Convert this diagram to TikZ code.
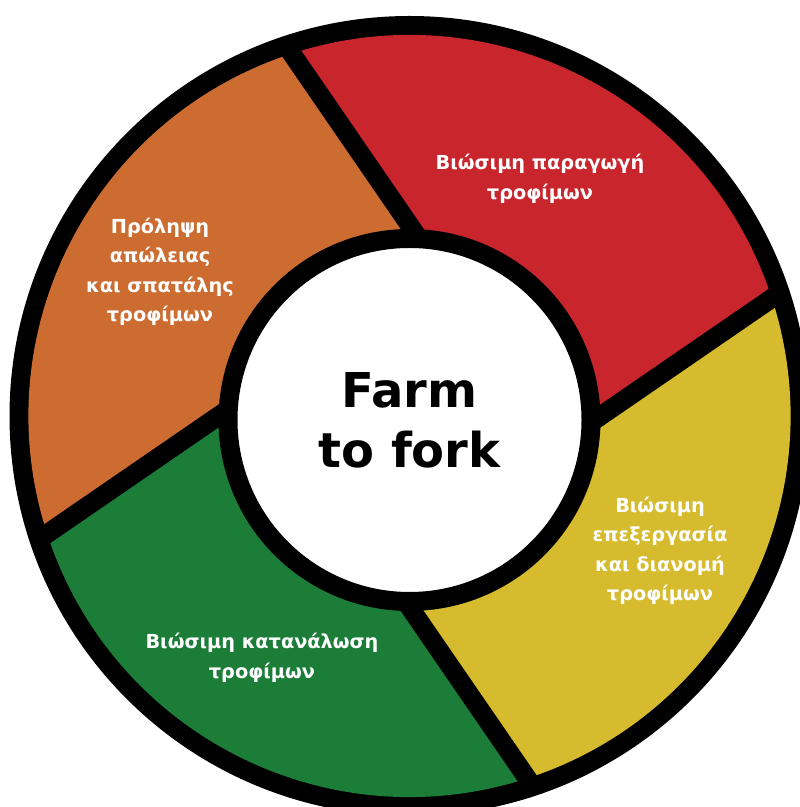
\documentclass[tikz,border=0pt]{standalone}
\usepackage{fontspec}
\setmainfont{DejaVu Sans}
\usetikzlibrary{calc}

\definecolor{ffred}{HTML}{C8252D}
\definecolor{fforange}{HTML}{CC6C30}
\definecolor{ffyellow}{HTML}{D5BB2D}
\definecolor{ffgreen}{HTML}{1B7D38}

\tikzset{
	seglabel/.style={text=white, align=center, font=\bfseries\fontsize{19.3bp}{29.5bp}\selectfont},
	hublabel/.style={circle, draw=black, fill=white, line width=19bp, minimum size=363bp, inner sep=0pt,
		align=center, font=\bfseries\fontsize{48bp}{60bp}\selectfont}
}

\begin{document}
\begin{tikzpicture}[x=1bp,y=1bp]
	\pgfmathsetmacro{\Ro}{400} % outer edge of the ring
	\pgfmathsetmacro{\Rc}{381} % outer edge of the coloured band
	\pgfmathsetmacro{\Ri}{191} % outer edge of the hub
	
	\useasboundingbox (0,0) rectangle (800,807);
	
	\begin{scope}[shift={(409.5,391)}]
		% Black disk behind everything
		\fill[black] (0,0) circle[radius=\Ro];
		
		% Coloured sectors, each turned by 18 degrees at the rim
		\foreach \a/\col in {0/ffred, -90/ffyellow, 180/ffgreen, 90/fforange} {
			\fill[\col] (0,0) -- (\a:\Ri) -- ({\a+18}:\Rc)
			arc[start angle={\a+18}, end angle={\a+108}, radius=\Rc]
			-- ({\a+90}:\Ri) -- cycle;
		}
		
		% Black dividers between the sectors
		\foreach \a in {0,-90,180,90} {
			\draw[black, line width=19bp]
			($(\a:\Ri)!-0.2!({\a+18}:\Rc)$) -- ($(\a:\Ri)!1.05!({\a+18}:\Rc)$);
		}
		
		% Hub
		\node[hublabel] (hub) at (0,-4) {Farm\\to fork};
		
		% Sector labels
		\node[seglabel] (prod) at (130.5,237) {Βιώσιμη παραγωγή\\τροφίμων};
		\node[seglabel] (proc) at (250.5,-135) {Βιώσιμη\\επεξεργασία\\και διανομή\\τροφίμων};
		\node[seglabel] (cons) at (-147.5,-242) {Βιώσιμη κατανάλωση\\τροφίμων};
		\node[seglabel] (waste) at (-249.5,144) {Πρόληψη\\απώλειας\\και σπατάλης\\τροφίμων};
	\end{scope}
	
\end{tikzpicture}
\end{document}
